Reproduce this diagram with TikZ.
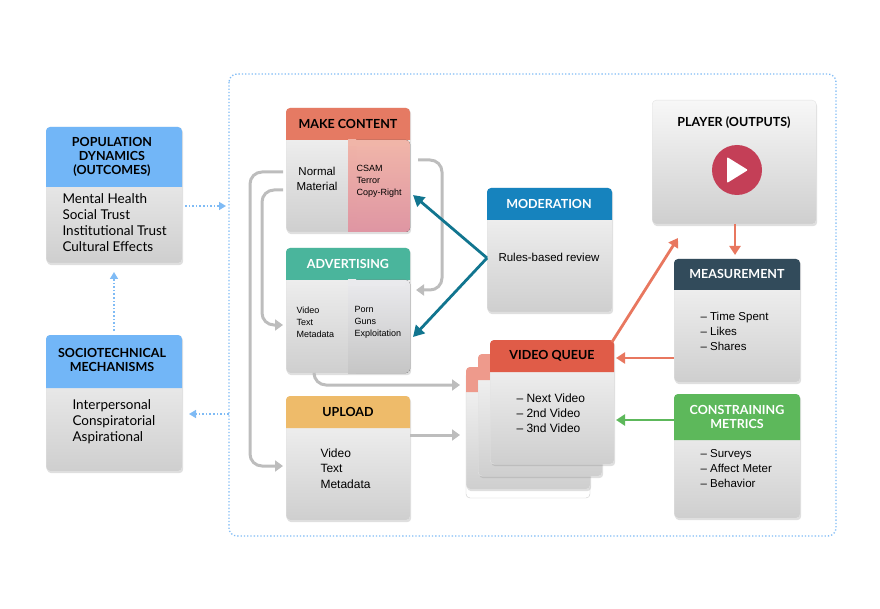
\documentclass[tikz,border=0pt]{standalone}
\usepackage{fontspec}
\setmainfont{Liberation Sans}
\newfontfamily\hdr{Lato}
\usetikzlibrary{shadows,arrows.meta}
\definecolor{popblue}{HTML}{72B6F7}
\definecolor{mcred}{HTML}{E57A63}
\definecolor{advteal}{HTML}{4AB59C}
\definecolor{upyel}{HTML}{EEBB6A}
\definecolor{modblue}{HTML}{1683BE}
\definecolor{measdark}{HTML}{324B5B}
\definecolor{cmgreen}{HTML}{5DB85B}
\definecolor{vqred}{HTML}{E05C48}
\definecolor{vqpink}{HTML}{EE9A8C}
\definecolor{playred}{HTML}{C43F57}
\definecolor{tealarr}{HTML}{11758F}
\definecolor{arrgrey}{HTML}{BDBDBD}
\definecolor{dotblue}{HTML}{7FBBF5}
\definecolor{orarr}{HTML}{E8775F}
\definecolor{grarr}{HTML}{5DB85B}
\tikzset{
 card/.style={rectangle, rounded corners=4pt, inner sep=0pt, top color=gray!6, bottom color=gray!38, draw=gray!22, line width=0.4pt,
   drop shadow={opacity=0.25, shadow xshift=1pt, shadow yshift=-2pt}},
 htext/.style={font=\hdr\bfseries\fontsize{12.5}{14}\selectfont, align=center},
 body/.style={font=\fontsize{12}{15.5}\selectfont, align=left, anchor=north west},
 small/.style={font=\fontsize{9}{12}\selectfont, align=left, anchor=north west},
 garr/.style={draw=arrgrey, line width=3pt, rounded corners=12pt, -{Triangle[length=8pt,width=11pt]}},
 tarr/.style={draw=tealarr, line width=2.8pt, -{Triangle[length=11pt,width=12pt]}},
 oarr/.style={draw=orarr, line width=2.8pt, -{Triangle[length=9pt,width=11pt]}},
 dotarr/.style={draw=dotblue, line width=1.6pt, dotted, -{Triangle[length=7pt,width=8pt]}}
}
\newcommand\card[7]{%
 \node[card, anchor=north west, minimum width={(#4-#2)*1pt}, minimum height={(#5-#3)*1pt}] (#1) at (#2,#3) {};
 \fill[#7] (#2,#6) [rounded corners=4pt] -- (#2,#3) -- (#4,#3) [sharp corners] -- (#4,#6) -- cycle;}
\begin{document}
\begin{tikzpicture}[x=1pt,y=-1pt]
\useasboundingbox (0,0) rectangle (880,609);
% frame
\draw[dotblue, line width=1.3pt, dotted, rounded corners=8pt] (229,74) rectangle (836,536);
% left cards
\card{pop}{46}{127}{182}{263}{187}{popblue}
\node[htext] (poph) at (112,157) {POPULATION\\DYNAMICS\\(OUTCOMES)};
\node[body, font=\hdr\fontsize{13.5}{16}\selectfont] (popt) at (59,190) {Mental Health\\Social Trust\\Institutional Trust\\Cultural Effects};
\card{soc}{46}{335}{182}{471}{388}{popblue}
\node[htext] (soch) at (112,360) {SOCIOTECHNICAL\\MECHANISMS};
\node[body, font=\hdr\fontsize{13.5}{16}\selectfont] (soct) at (69,396) {Interpersonal\\Conspiratorial\\Aspirational};
\coordinate (fr1) at (226,206);
\coordinate (fr2) at (229,414);
\draw[dotarr] (185,206) -- (fr1);
\draw[dotarr] (fr2) -- (189,414);
\draw[dotarr] (114,331) -- (114,272);
% make content
\card{mc}{286}{108}{410}{232}{140}{mcred}
\fill[top color=mcred!55, bottom color=playred!55, rounded corners=4pt] (348,140) -- (410,140) -- (410,232) -- (348,232) -- cycle;
\fill[top color=mcred!56, bottom color=playred!55] (348,140) rectangle (356,232);
\fill[mcred!56] (348,140) rectangle (405,146);
\node[htext] (mch) at (348,124) {MAKE CONTENT};
\node[font=\fontsize{11.5}{15}\selectfont, align=center] (mcl) at (317,179) {Normal\\Material};
\node[small] (mcr) at (353,162) {CSAM\\Terror\\Copy-Right};
% advertising
\card{adv}{286}{248}{410}{373}{280}{advteal}
\fill[top color=blue!8!gray!15, bottom color=gray!45, rounded corners=4pt] (348,280) -- (410,280) -- (410,373) -- (348,373) -- cycle;
\fill[top color=blue!8!gray!15, bottom color=gray!45] (348,280) rectangle (356,373);
\fill[blue!8!gray!15] (348,280) rectangle (405,286);
\node[htext, text=white] (advh) at (348,264) {ADVERTISING};
\node[small] (advl) at (293,303) {Video\\Text\\Metadata};
\node[small] (advr) at (351,303) {Porn\\Guns\\Exploitation};
% upload
\card{up}{286}{396}{410}{520}{428}{upyel}
\node[htext] (uph) at (348,412) {UPLOAD};
\node[body] (upt) at (317,445) {Video\\Text\\Metadata};
% moderation
\card{mod}{487}{188}{612}{312}{220}{modblue}
\node[htext, text=white] (modh) at (549,204) {MODERATION};
\node[font=\fontsize{11.5}{13}\selectfont] (modt) at (549,257) {Rules-based review};
% player
\node[card, anchor=north west, minimum width=164pt, minimum height=124pt] (pl) at (652,100) {};
\node[htext] (plh) at (734,123) {PLAYER (OUTPUTS)};
\fill[playred] (737,170) circle (25);
\fill[white, rounded corners=1pt] (727,157) -- (748,170) -- (727,183) -- cycle;
% measurement
\card{meas}{674}{259}{800}{382}{290}{measdark}
\node[htext, text=white] (mh) at (737,274) {MEASUREMENT};
\node[body, font=\fontsize{11.5}{15}\selectfont] (mt) at (697,309) {-- Time Spent\\-- Likes\\-- Shares};
% constraining
\card{cm}{674}{394}{800}{518}{440}{cmgreen}
\node[htext, text=white] (cmh) at (737,417) {CONSTRAINING\\METRICS};
\node[body, font=\fontsize{11.5}{15}\selectfont] (cmt) at (697,446) {-- Surveys\\-- Affect Meter\\-- Behavior};
% video queue stack
\draw[gray!40, fill=white, rounded corners=4pt] (466,372) rectangle (590,498);
\card{vq3}{466}{367}{590}{489}{392}{vqpink}
\card{vq2}{478}{354}{602}{476}{380}{vqpink}
\card{vq}{490}{340}{614}{464}{372}{vqred}
\node[htext] (vqh) at (552,356) {VIDEO QUEUE};
\node[body, font=\fontsize{12}{15}\selectfont] (vqt) at (513,390) {-- Next Video\\-- 2nd Video\\-- 3nd Video};
% grey arrows
\draw[garr] (418,160) -- (442,160) -- (442,290) -- (416,290);
\draw[garr] (283,172) -- (250,172) -- (250,466) -- (283,466);
\draw[garr] (283,190) -- (262,190) -- (262,325) -- (283,325);
\draw[garr] (314,375) -- (314,385) -- (460,385);
\draw[garr] (410,435) -- (460,435);
% teal arrows
\coordinate (mj) at (487,258);
\draw[tarr] (mj) -- (413,195);
\draw[tarr] (mj) -- (413,337);
% orange / green
\draw[oarr] (612,342) -- (678,238);
\draw[oarr] (735,224) -- (735,255);
\draw[oarr] (674,358) -- (616,358);
\draw[oarr, draw=grarr] (674,420) -- (616,420);
\end{tikzpicture}
\end{document}
